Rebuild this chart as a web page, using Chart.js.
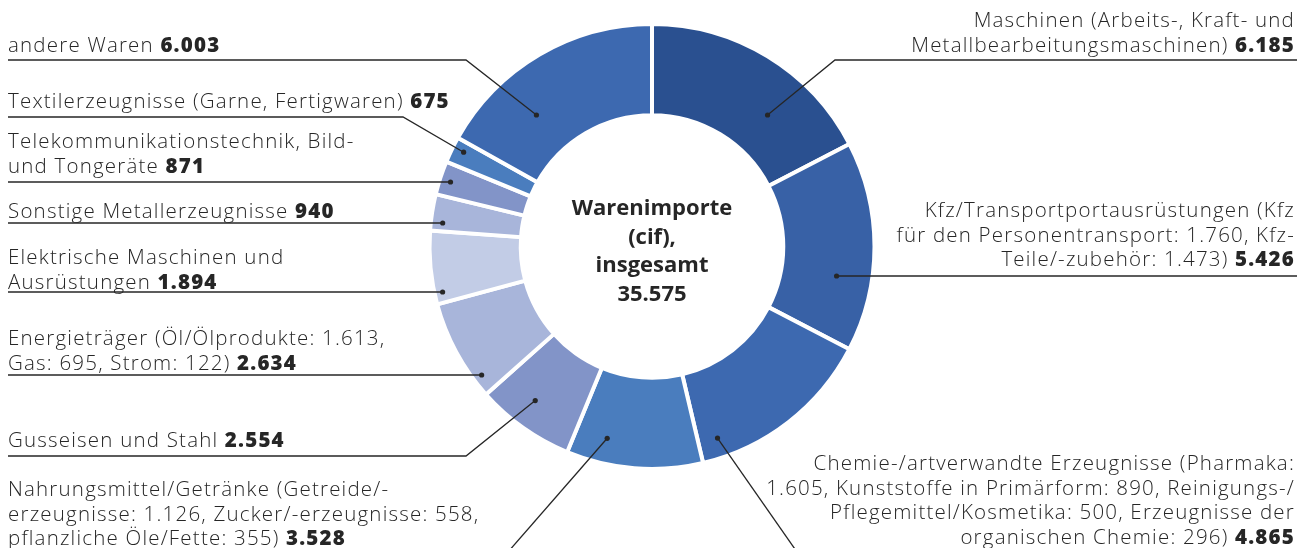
<!DOCTYPE html>
<html lang="de">
<head>
<meta charset="utf-8">
<title>Warenimporte (cif)</title>
<script src="https://cdn.jsdelivr.net/npm/chart.js@4/dist/chart.umd.min.js"></script>
<style>
  html, body { margin: 0; padding: 0; background: #fff; }
  #wrap { width: 1309px; height: 548px; position: relative; }
</style>
</head>
<body>
<div id="wrap"><canvas id="donutChart"></canvas></div>
<script>
// categories, clockwise from the top
const categories = [
  "Maschinen",
  "Kfz/Transportausrüstungen",
  "Chemie-/artverwandte Erzeugnisse",
  "Nahrungsmittel/Getränke",
  "Gusseisen und Stahl",
  "Energieträger",
  "Elektrische Maschinen und Ausrüstungen",
  "Sonstige Metallerzeugnisse",
  "Telekommunikationstechnik, Bild- und Tongeräte",
  "Textilerzeugnisse",
  "andere Waren"
];
const values = [6185, 5426, 4865, 3528, 2554, 2634, 1894, 940, 871, 675, 6003];
const totalValue = 35575;
const centerLines = ["Warenimporte", "(cif),", "insgesamt"];

// label text, the bold value is added to the last line
const labelLines = [
  ["Maschinen (Arbeits-, Kraft- und", "Metallbearbeitungsmaschinen)"],
  ["Kfz/Transportportausrüstungen (Kfz", "für den Personentransport: 1.760, Kfz-", "Teile/-zubehör: 1.473)"],
  ["Chemie-/artverwandte Erzeugnisse (Pharmaka:", "1.605, Kunststoffe in Primärform: 890, Reinigungs-/", "Pflegemittel/Kosmetika: 500, Erzeugnisse der", "organischen Chemie: 296)"],
  ["Nahrungsmittel/Getränke (Getreide/-", "erzeugnisse: 1.126, Zucker/-erzeugnisse: 558,", "pflanzliche Öle/Fette: 355)"],
  ["Gusseisen und Stahl"],
  ["Energieträger (Öl/Ölprodukte: 1.613,", "Gas: 695, Strom: 122)"],
  ["Elektrische Maschinen und", "Ausrüstungen"],
  ["Sonstige Metallerzeugnisse"],
  ["Telekommunikationstechnik, Bild-", "und Tongeräte"],
  ["Textilerzeugnisse (Garne, Fertigwaren)"],
  ["andere Waren"]
];

const colors = [
  "#2a5090", "#3861a6", "#3d69b0", "#4a7dbe", "#8294c8", "#a8b5da",
  "#c2cce6", "#a8b5da", "#8294c8", "#4a7dbe", "#3d69b0"
];

// label placement: side, first baseline, leader line
// kind "h": horizontal line hitting the ring at ring fraction r
// kind "elbow": underline to elbowX, then to a dot at (angle t, ring r)
// kind "free": line from dot to an end point
const labelLayout = [
  { side: "right", y: 27, kind: "elbow", lineY: 60, elbowX: 835, t: 0.66, r: 0.48 },
  { side: "right", y: 217, kind: "h", lineY: 276, r: 0.61 },
  { side: "right", y: 470, kind: "free", endX: 797, endY: 552, t: 0.886, r: 0.78 },
  { side: "left", y: 496, kind: "free", endX: 508, endY: 552, t: 0.74, r: 0.72 },
  { side: "left", y: 447, kind: "elbow", lineY: 456, elbowX: 466, t: 0.57, r: 0.68 },
  { side: "left", y: 345, kind: "h", lineY: 375, r: 0.9 },
  { side: "left", y: 264, kind: "h", lineY: 292, r: 0.91 },
  { side: "left", y: 218, kind: "h", lineY: 223, r: 0.87 },
  { side: "left", y: 148, kind: "h", lineY: 182, r: 0.88 },
  { side: "left", y: 108, kind: "elbow", lineY: 117, elbowX: 403, t: 0.61, r: 0.87 },
  { side: "left", y: 52, kind: "elbow", lineY: 60, elbowX: 466, t: 0.32, r: 0.48 }
];

const FONT = '"Open Sans", "Noto Sans", sans-serif';
const TEXT_SIZE = 20.5;
const SPACING = "1.2px";
const LINE_GAP = 24.5;
const LEFT_X = 8;
const RIGHT_X = 1295;
const INK = "#262626";

function fmt(n) {
  return n.toLocaleString("de-DE");
}

function dotOnArc(arc, t, r) {
  const p = arc.getProps(["x", "y", "startAngle", "endAngle", "innerRadius", "outerRadius"]);
  const a = p.startAngle + t * (p.endAngle - p.startAngle);
  const rad = p.innerRadius + r * (p.outerRadius - p.innerRadius);
  return { x: p.x + rad * Math.cos(a), y: p.y + rad * Math.sin(a) };
}

function dotOnLine(arc, lineY, r, side) {
  const p = arc.getProps(["x", "y", "innerRadius", "outerRadius"]);
  const rad = p.innerRadius + r * (p.outerRadius - p.innerRadius);
  const dy = lineY - p.y;
  const dx = Math.sqrt(Math.max(rad * rad - dy * dy, 0));
  return { x: side === "left" ? p.x - dx : p.x + dx, y: lineY };
}

function drawLabel(ctx, lines, value, lay) {
  const regular = "300 " + TEXT_SIZE + "px " + FONT;
  const bold = "800 " + TEXT_SIZE + "px " + FONT;
  ctx.textBaseline = "alphabetic";
  ctx.textAlign = "left";
  ctx.letterSpacing = SPACING;
  lines.forEach((line, i) => {
    const y = lay.y + i * LINE_GAP;
    const last = i === lines.length - 1;
    const txt = last ? line + " " : line;
    ctx.font = regular;
    const w1 = ctx.measureText(txt).width;
    let w2 = 0;
    if (last) {
      ctx.font = bold;
      w2 = ctx.measureText(fmt(value)).width;
    }
    const x0 = lay.side === "left" ? LEFT_X : RIGHT_X - w1 - w2;
    ctx.font = regular;
    ctx.fillText(txt, x0, y);
    if (last) {
      ctx.font = bold;
      ctx.fillText(fmt(value), x0 + w1, y);
    }
  });
  ctx.letterSpacing = "0px";
}

const leaderPlugin = {
  id: "leaders",
  afterDraw(chart) {
    const ctx = chart.ctx;
    const meta = chart.getDatasetMeta(0);
    ctx.save();
    ctx.fillStyle = INK;
    ctx.strokeStyle = INK;
    ctx.lineWidth = 1.3;

    labelLayout.forEach((lay, i) => {
      const arc = meta.data[i];
      let dot;
      ctx.beginPath();
      if (lay.kind === "h") {
        dot = dotOnLine(arc, lay.lineY, lay.r, lay.side);
        ctx.moveTo(lay.side === "left" ? LEFT_X : RIGHT_X + 2, lay.lineY);
        ctx.lineTo(dot.x, dot.y);
      } else if (lay.kind === "elbow") {
        dot = dotOnArc(arc, lay.t, lay.r);
        ctx.moveTo(lay.side === "left" ? LEFT_X : RIGHT_X + 2, lay.lineY);
        ctx.lineTo(lay.elbowX, lay.lineY);
        ctx.lineTo(dot.x, dot.y);
      } else {
        dot = dotOnArc(arc, lay.t, lay.r);
        ctx.moveTo(lay.endX, lay.endY);
        ctx.lineTo(dot.x, dot.y);
      }
      ctx.stroke();
      ctx.beginPath();
      ctx.arc(dot.x, dot.y, 2.6, 0, Math.PI * 2);
      ctx.fill();

      drawLabel(ctx, labelLines[i], values[i], lay);
    });

    // text in the hole
    const c = meta.data[0];
    ctx.textAlign = "center";
    ctx.font = "bold 22px " + FONT;
    const rows = centerLines.concat([fmt(totalValue)]);
    rows.forEach((row, k) => {
      ctx.fillText(row, c.x, 215 + k * 28.5);
    });
    ctx.restore();
  }
};

const config = {
  type: "doughnut",
  data: {
    labels: categories,
    datasets: [
      {
        data: values,
        backgroundColor: colors,
        borderColor: "#ffffff",
        borderWidth: 4,
        hoverOffset: 0
      }
    ]
  },
  options: {
    responsive: false,
    animation: false,
    cutout: "59%",
    layout: {
      padding: { top: 22, bottom: 77, left: 0, right: 5 }
    },
    plugins: {
      legend: { display: false },
      tooltip: { enabled: false }
    }
  },
  plugins: [leaderPlugin]
};

const canvas = document.getElementById("donutChart");
canvas.width = 1309;
canvas.height = 548;
new Chart(canvas, config);
</script>
</body>
</html>
